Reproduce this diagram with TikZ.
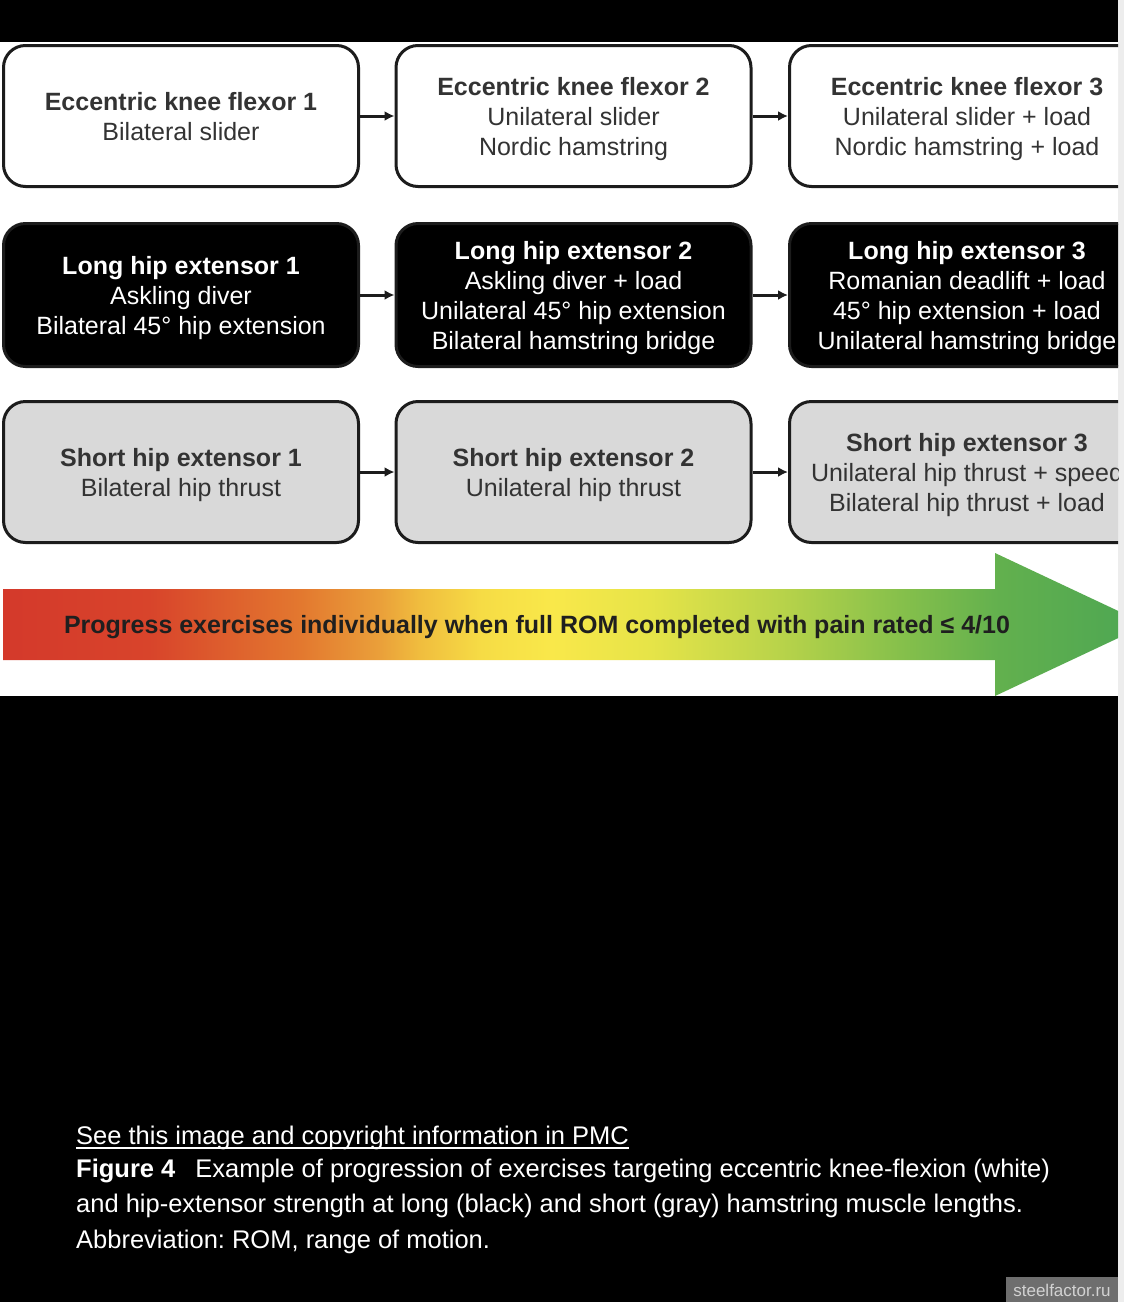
\documentclass[tikz,border=0pt]{standalone}
\usepackage{fontspec}
\setmainfont{Liberation Sans}
\usetikzlibrary{arrows.meta,calc}
\frenchspacing
\definecolor{boxline}{HTML}{1C1C1C}
\definecolor{txtgray}{HTML}{333333}
\definecolor{boxgray}{HTML}{D9D9D9}
\definecolor{scrollgray}{HTML}{EDEDED}
\definecolor{wmbox}{HTML}{6E6E6E}
\definecolor{wmtext}{HTML}{D2D2D2}
\definecolor{pa}{HTML}{D4392B}
\definecolor{pb}{HTML}{D8442B}
\definecolor{pc}{HTML}{E3782F}
\definecolor{pd}{HTML}{EAA03A}
\definecolor{pe}{HTML}{F0BD3E}
\definecolor{pf}{HTML}{F6DC45}
\definecolor{pg}{HTML}{F9E84A}
\definecolor{ph}{HTML}{E6E448}
\definecolor{pi}{HTML}{B8D34A}
\definecolor{pj}{HTML}{86C04B}
\definecolor{pk}{HTML}{62B04E}
\definecolor{pl}{HTML}{4CA653}
% bounding box x from 3 to 1147 mapped to 25bp..75bp
\pgfdeclarehorizontalshading{progshade}{100bp}{%
  color(0bp)=(pa); color(25bp)=(pa); color(31.4bp)=(pb); color(38bp)=(pc);
  color(41.5bp)=(pd); color(43.2bp)=(pe); color(45.9bp)=(pf); color(49bp)=(pg);
  color(53.3bp)=(ph); color(59bp)=(pi); color(64.2bp)=(pj); color(68.6bp)=(pk);
  color(75bp)=(pl); color(100bp)=(pl)}
\newcommand{\boxhead}[1]{\rule{0pt}{24pt}\textbf{#1}}
\begin{document}
\begin{tikzpicture}[x=1pt,y=-1pt,
  exbox/.style={draw=boxline, line width=3pt, rounded corners=22pt,
    minimum width=355pt, inner sep=0pt, align=center,
    font=\fontsize{25}{30}\selectfont,
    execute at end node={\rule[-5.5pt]{0pt}{0pt}}},
  whtbox/.style={exbox, fill=white, text=txtgray, minimum height=141pt},
  blkbox/.style={exbox, fill=black, text=white, minimum height=143pt},
  grybox/.style={exbox, fill=boxgray, text=txtgray, minimum height=141pt},
  flow/.style={draw=boxline, line width=3pt, -{Latex[length=10pt,width=10pt]}},
  captxt/.style={text=white, inner sep=0pt, font=\fontsize{25.5}{30}\selectfont}]
\useasboundingbox (0,0) rectangle (1124,1302);
\fill[black] (0,0) rectangle (1124,1302);
\fill[white] (0,42) rectangle (1118,696);
\fill[scrollgray] (1118,0) rectangle (1124,1302);
\begin{scope}
\clip (0,42) rectangle (1118,696);
% progression arrow
\path[shading=progshade] (3,589) -- (995,589) -- (995,553) -- (1147,624.5)
  -- (995,696) -- (995,660) -- (3,660) -- cycle;
\node[inner sep=0pt, text=black!88, font=\bfseries\fontsize{25}{30}\selectfont]
  (prog) at (537,627) {Progress exercises individually when full ROM completed with pain rated ≤ 4/10};
% row 1
\node[whtbox] (k1) at (181,116) {\boxhead{Eccentric knee flexor 1}\\Bilateral slider};
\node[whtbox] (k2) at (573.5,116) {\boxhead{Eccentric knee flexor 2}\\Unilateral slider\\Nordic hamstring};
\node[whtbox] (k3) at (967,116) {\boxhead{Eccentric knee flexor 3}\\Unilateral slider + load\\Nordic hamstring + load};
% row 2
\node[blkbox] (l1) at (181,295) {\boxhead{Long hip extensor 1}\\Askling diver\\Bilateral 45° hip extension};
\node[blkbox] (l2) at (573.5,295) {\boxhead{Long hip extensor 2}\\Askling diver + load\\Unilateral 45° hip extension\\Bilateral hamstring bridge};
\node[blkbox] (l3) at (967,295) {\boxhead{Long hip extensor 3}\\Romanian deadlift + load\\45° hip extension + load\\Unilateral hamstring bridge};
% row 3
\node[grybox] (s1) at (181,472) {\boxhead{Short hip extensor 1}\\Bilateral hip thrust};
\node[grybox] (s2) at (573.5,472) {\boxhead{Short hip extensor 2}\\Unilateral hip thrust};
\node[grybox] (s3) at (967,472) {\boxhead{Short hip extensor 3}\\Unilateral hip thrust + speed\\Bilateral hip thrust + load};
% connectors
\draw[flow] (k1) -- (k2);
\draw[flow] (k2) -- (k3);
\draw[flow] (l1) -- (l2);
\draw[flow] (l2) -- (l3);
\draw[flow] (s1) -- (s2);
\draw[flow] (s2) -- (s3);
\end{scope}
% caption
\node[captxt, anchor=base west] (cap1) at (76,1144) {See this image and copyright information in PMC};
\draw[white, line width=1.5pt] ($(cap1.base west)+(0,4)$) -- ($(cap1.base east)+(0,4)$);
\node[captxt, anchor=base west] (cap2) at (76,1177) {\textbf{Figure 4}\hspace{20pt}Example of progression of exercises targeting eccentric knee-flexion (white)};
\node[captxt, anchor=base west] (cap3) at (76,1212) {and hip-extensor strength at long (black) and short (gray) hamstring muscle lengths.};
\node[captxt, anchor=base west] (cap4) at (76,1248) {Abbreviation: ROM, range of motion.};
% watermark
\fill[wmbox] (1006,1277) rectangle (1118,1302);
\node[inner sep=0pt, text=wmtext, font=\fontsize{17}{20}\selectfont] (wm) at (1062,1290) {steelfactor.ru};
\end{tikzpicture}
\end{document}
